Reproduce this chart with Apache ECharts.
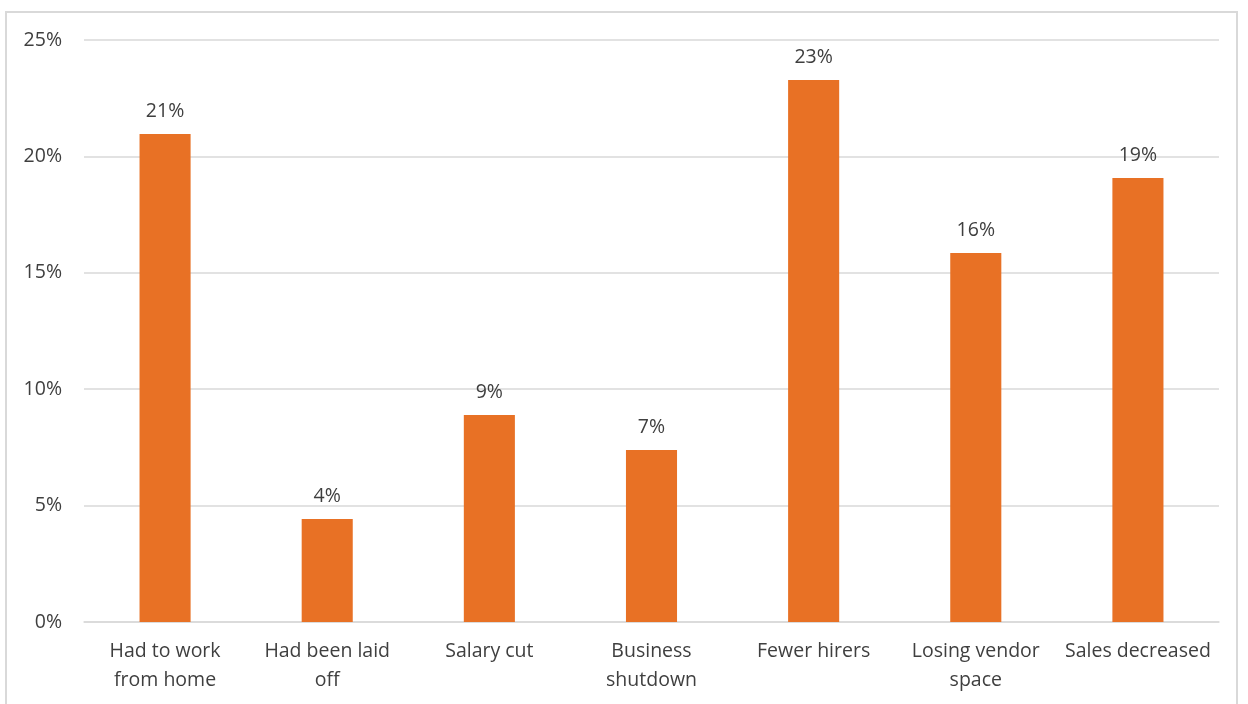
<!DOCTYPE html>
<html>
<head>
<meta charset="utf-8">
<script src="https://cdn.jsdelivr.net/npm/echarts@6/dist/echarts.min.js"></script>
<style>
  html, body { margin: 0; padding: 0; background: #fff; }
  #main { width: 1248px; height: 704px; }
  #frame { position: absolute; left: 5px; top: 11px; width: 1233px; height: 700px;
    border: 2px solid #d9d9d9; box-sizing: border-box; pointer-events: none; }
</style>
</head>
<body>
<div id="main"></div>
<div id="frame"></div>
<script>
// categories and values (percent)
var categories = ['Had to work\nfrom home', 'Had been laid\noff', 'Salary cut', 'Business\nshutdown',
  'Fewer hirers', 'Losing vendor\nspace', 'Sales decreased'];
var values = [20.96, 4.42, 8.89, 7.39, 23.28, 15.85, 19.07];
var yTicks = [0, 5, 10, 15, 20, 25];

var textColor = '#3f3f3f';
var fontFamily = 'Open Sans, sans-serif';

var chart = echarts.init(document.getElementById('main'));

var option = {
  backgroundColor: '#ffffff',
  animation: false,
  grid: { left: 84, right: 29, top: 40, bottom: 82 },
  xAxis: {
    type: 'category',
    data: categories,
    axisLine: { lineStyle: { color: '#d9d9d9', width: 1.5 } },
    axisTick: { show: false },
    axisLabel: {
      color: textColor,
      fontSize: 19.5,
      fontFamily: fontFamily,
      lineHeight: 29,
      margin: 15,
      interval: 0
    }
  },
  yAxis: {
    type: 'value',
    min: yTicks[0],
    max: yTicks[yTicks.length - 1],
    interval: 5,
    axisLine: { show: false },
    axisTick: { show: false },
    splitLine: { lineStyle: { color: '#d9d9d9', width: 1.5 } },
    axisLabel: {
      color: textColor,
      fontSize: 19.5,
      fontFamily: fontFamily,
      margin: 22,
      formatter: '{value}%'
    }
  },
  series: [{
    type: 'bar',
    data: values,
    barWidth: '31.5%',
    itemStyle: { color: '#E87125' },
    label: {
      show: true,
      position: 'top',
      distance: 13,
      color: textColor,
      fontSize: 19.5,
      fontFamily: fontFamily,
      formatter: function (p) { return Math.round(p.value) + '%'; }
    }
  }]
};

chart.setOption(option);
</script>
</body>
</html>
